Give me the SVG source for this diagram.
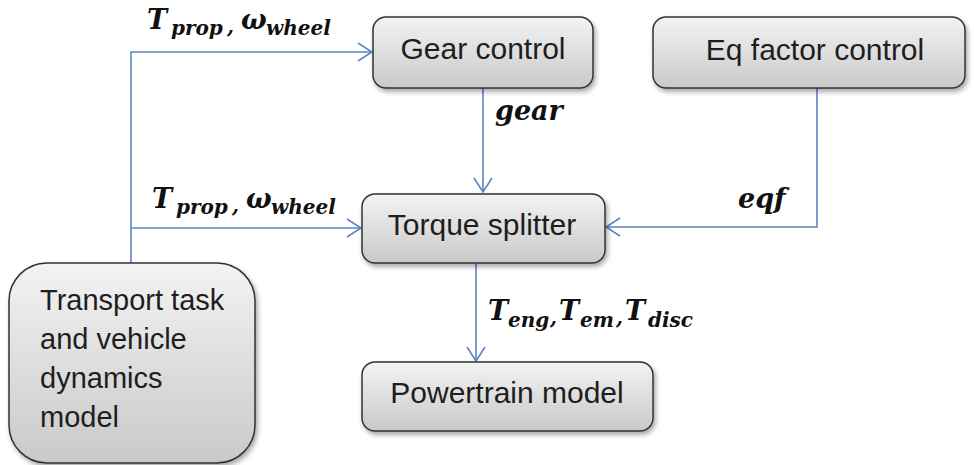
<svg xmlns="http://www.w3.org/2000/svg" width="974" height="465" viewBox="0 0 974 465">
<style>
.box{fill:url(#g);stroke:#333;stroke-width:1.5;filter:url(#sh)}
.lbl{font-family:"Liberation Sans",Arial,sans-serif;font-size:30px;fill:#1e1e1e}
.con{fill:none;stroke:#5a86c4;stroke-width:1.6;marker-end:url(#arr)}
.m{font-family:"DejaVu Serif","Liberation Serif",serif;font-weight:bold;font-style:italic;fill:#111}
.big{font-size:27px}
.sub{font-size:20px}
</style>
<defs>
<linearGradient id="g" x1="0" y1="0" x2="0" y2="1">
<stop offset="0" stop-color="#f3f3f3"/>
<stop offset="1" stop-color="#c9c9c9"/>
</linearGradient>
<filter id="sh" x="-10%" y="-10%" width="130%" height="140%">
<feDropShadow dx="2" dy="3" stdDeviation="2.5" flood-color="#000" flood-opacity="0.35"/>
</filter>
<marker id="arr" viewBox="0 0 16 20" refX="15" refY="10" markerWidth="16" markerHeight="20" markerUnits="userSpaceOnUse" orient="auto">
<path d="M1,1 L15,10 L1,19" fill="none" stroke="#5a86c4" stroke-width="1.6"/>
</marker>
</defs>
<rect width="974" height="465" fill="#fff"/>
<g id="connectors">
<path class="con" d="M131,263 V52 H372"/>
<path class="con" d="M131,228 H361"/>
<path class="con" d="M483,88 V192"/>
<path class="con" d="M817,88 V227 H606"/>
<path class="con" d="M476,263 V361"/>
</g>
<g id="gear-control">
<rect class="box" x="373" y="17" width="220" height="71" rx="13"/>
<text class="lbl" x="483" y="59" text-anchor="middle">Gear control</text>
</g>
<g id="eq-factor-control">
<rect class="box" x="653" y="17" width="312" height="71" rx="13"/>
<text class="lbl" x="815" y="60" text-anchor="middle">Eq factor control</text>
</g>
<g id="torque-splitter">
<rect class="box" x="362" y="194" width="243" height="69" rx="13"/>
<text class="lbl" x="482" y="235" text-anchor="middle">Torque splitter</text>
</g>
<g id="powertrain-model">
<rect class="box" x="362" y="362" width="291" height="69" rx="13"/>
<text class="lbl" x="507" y="403" text-anchor="middle">Powertrain model</text>
</g>
<g id="transport-task">
<rect class="box" x="9" y="263" width="246" height="200" rx="38"/>
<text class="lbl" style="font-size:29px" x="40" y="310">Transport task</text>
<text class="lbl" style="font-size:29px" x="40" y="349">and vehicle</text>
<text class="lbl" style="font-size:29px" x="40" y="388">dynamics</text>
<text class="lbl" style="font-size:29px" x="40" y="427">model</text>
</g>
<g id="labels">
<text class="m"><tspan class="big" x="147" y="29">T</tspan><tspan class="sub" x="171" y="35">prop</tspan><tspan class="sub" x="227" y="33">,</tspan><tspan class="big" x="241" y="29">ω</tspan><tspan class="sub" x="266" y="35">wheel</tspan></text>
<text class="m"><tspan class="big" x="152" y="208">T</tspan><tspan class="sub" x="176" y="214">prop</tspan><tspan class="sub" x="232" y="212">,</tspan><tspan class="big" x="246" y="208">ω</tspan><tspan class="sub" x="271" y="214">wheel</tspan></text>
<text class="m big" x="495" y="120">gear</text>
<text class="m big" x="738" y="208">eqf</text>
<text class="m"><tspan class="big" x="488" y="320">T</tspan><tspan class="sub" x="508" y="327">eng</tspan><tspan class="sub" x="550" y="324">,</tspan><tspan class="big" x="559" y="320">T</tspan><tspan class="sub" x="580" y="327">em</tspan><tspan class="sub" x="616" y="324">,</tspan><tspan class="big" x="625" y="320">T</tspan><tspan class="sub" x="648" y="327">disc</tspan></text>
</g>
</svg>
